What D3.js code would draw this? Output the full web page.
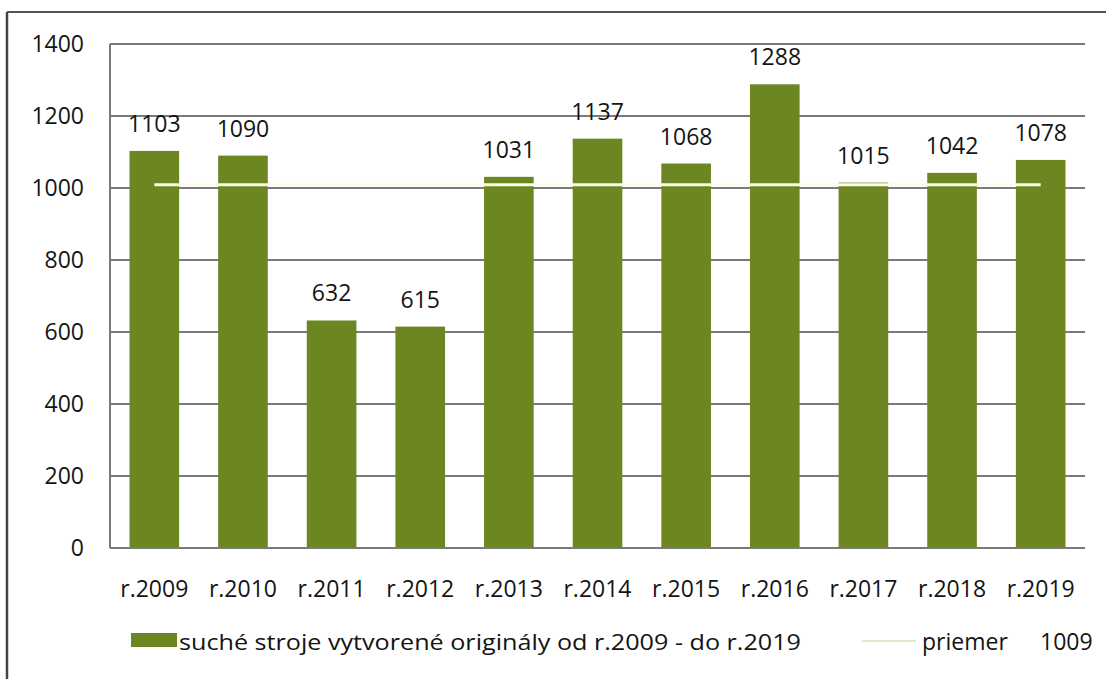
<!DOCTYPE html>
<html>
<head>
<meta charset="utf-8">
<script src="https://cdn.jsdelivr.net/npm/d3@7"></script>
<style>
  body { margin: 0; background: #fff; }
  text { font-family: "Open Sans", "DejaVu Sans", sans-serif; fill: #141414; }
</style>
</head>
<body>
<svg width="1106" height="679"></svg>
<script>
var years = ["r.2009", "r.2010", "r.2011", "r.2012", "r.2013", "r.2014", "r.2015", "r.2016", "r.2017", "r.2018", "r.2019"];
var counts = [1103, 1090, 632, 615, 1031, 1137, 1068, 1288, 1015, 1042, 1078];
var average = 1009;
var yTicks = [0, 200, 400, 600, 800, 1000, 1200, 1400];

var svg = d3.select("svg");

// outer frame (top + left only, as in the scan)
svg.append("line").attr("x1", 7).attr("x2", 1106).attr("y1", 12).attr("y2", 12)
    .attr("stroke", "#555").attr("stroke-width", 2);
svg.append("line").attr("x1", 7).attr("x2", 7).attr("y1", 12).attr("y2", 679)
    .attr("stroke", "#444").attr("stroke-width", 2.5);

var x = d3.scaleBand()
    .domain(years)
    .range([110, 1085])
    .paddingInner(0.44)
    .paddingOuter(0.22);

var y = d3.scaleLinear()
    .domain([0, 1400])
    .range([548, 44]);

// gridlines
svg.append("g")
    .selectAll("line")
    .data(yTicks.slice(1))
    .enter().append("line")
    .attr("x1", 110).attr("x2", 1085)
    .attr("y1", function(d) { return y(d); })
    .attr("y2", function(d) { return y(d); })
    .attr("stroke", "#7a7a7a")
    .attr("stroke-width", 2);

// y labels
svg.append("g")
    .selectAll("text")
    .data(yTicks)
    .enter().append("text")
    .attr("x", 84)
    .attr("y", function(d) { return y(d) + 8; })
    .attr("text-anchor", "end")
    .style("font-size", "23px")
    .text(function(d) { return d; });

// bars
svg.append("g")
    .selectAll("rect")
    .data(counts)
    .enter().append("rect")
    .attr("x", function(d, i) { return x(years[i]); })
    .attr("y", function(d) { return y(d); })
    .attr("width", x.bandwidth())
    .attr("height", function(d) { return y(0) - y(d); })
    .attr("fill", "#6c8722");

// axes lines
svg.append("line").attr("x1", 110).attr("x2", 110).attr("y1", 44).attr("y2", 548)
    .attr("stroke", "#7a7a7a").attr("stroke-width", 2);
svg.append("line").attr("x1", 110).attr("x2", 1085).attr("y1", y(0)).attr("y2", y(0))
    .attr("stroke", "#7a7a7a").attr("stroke-width", 2);

// average line
svg.append("line")
    .attr("x1", x(years[0]) + x.bandwidth() / 2)
    .attr("x2", x(years[years.length - 1]) + x.bandwidth() / 2)
    .attr("y1", y(average)).attr("y2", y(average))
    .attr("stroke", "#fbfde8")
    .attr("stroke-width", 3);

// value labels
svg.append("g")
    .selectAll("text")
    .data(counts)
    .enter().append("text")
    .attr("x", function(d, i) { return x(years[i]) + x.bandwidth() / 2; })
    .attr("y", function(d) { return y(d) - 19; })
    .attr("text-anchor", "middle")
    .style("font-size", "23px")
    .text(function(d) { return d; });

// category labels
svg.append("g")
    .selectAll("text")
    .data(years)
    .enter().append("text")
    .attr("x", function(d) { return x(d) + x.bandwidth() / 2; })
    .attr("y", 597)
    .attr("text-anchor", "middle")
    .style("font-size", "23px")
    .text(function(d) { return d; });

// legend
svg.append("rect").attr("x", 131).attr("y", 633).attr("width", 46).attr("height", 14)
    .attr("fill", "#6c8722");
svg.append("text").attr("x", 179).attr("y", 650)
    .style("font-size", "22px")
    .attr("textLength", 622)
    .attr("lengthAdjust", "spacingAndGlyphs")
    .text("suché stroje vytvorené originály od r.2009 - do r.2019");
svg.append("line").attr("x1", 862).attr("x2", 916).attr("y1", 641).attr("y2", 641)
    .attr("stroke", "#d9e3b0").attr("stroke-width", 1.5);
svg.append("text").attr("x", 922).attr("y", 650)
    .style("font-size", "23px")
    .text("priemer");
svg.append("text").attr("x", 1040).attr("y", 650)
    .style("font-size", "23px")
    .text(average);
</script>
</body>
</html>
